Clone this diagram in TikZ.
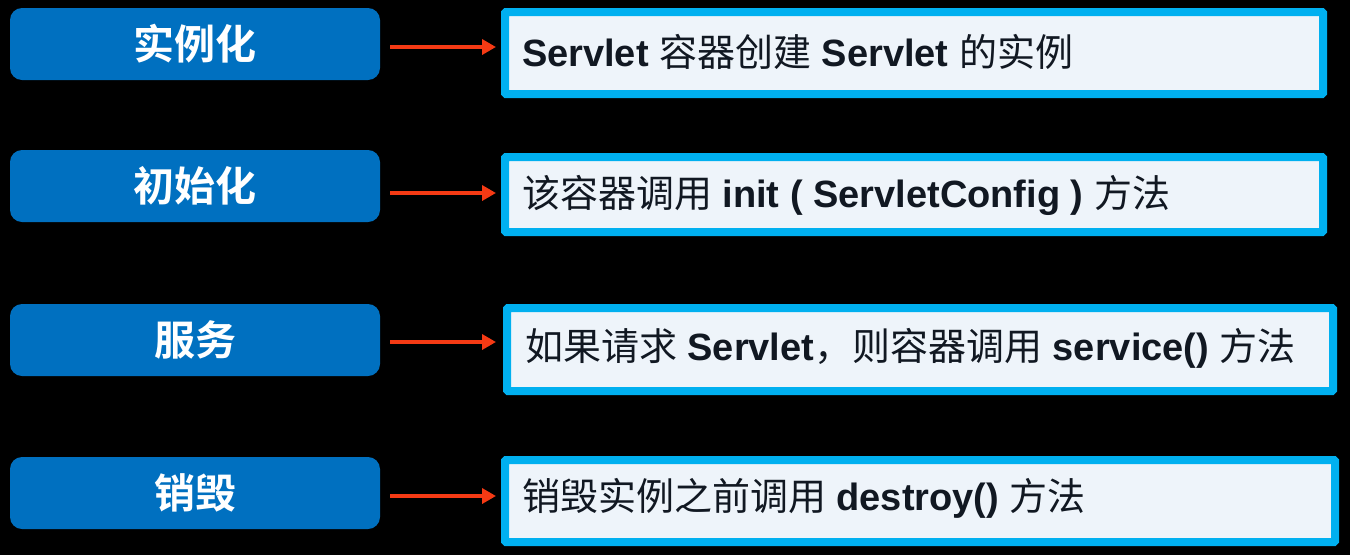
\documentclass[tikz,border=0pt]{standalone}
\usepackage{fontspec}
\setmainfont{Liberation Sans}
\newfontfamily\cjk{Noto Sans CJK SC}
\newfontfamily\cjkb{Noto Sans CJK SC Bold}
\usetikzlibrary{arrows.meta}
\definecolor{stagefill}{HTML}{0070C0}
\definecolor{descborder}{HTML}{00B0F0}
\definecolor{descfill}{HTML}{EEF4FA}
\definecolor{arrowred}{HTML}{F53A14}
\definecolor{desctext}{HTML}{111822}
\tikzset{
  stagebox/.style={fill=stagefill, rounded corners=12, minimum width=370, minimum height=72,
    inner sep=0, outer sep=0, text=white, font=\cjkb\fontsize{41}{44}\selectfont},
  descbox/.style={draw=descborder, line width=8, fill=descfill, rounded corners=1,
    inner sep=0, outer sep=0},
  desctxt/.style={anchor=west, inner sep=0, outer sep=0, text=desctext,
    font=\fontsize{38}{41}\selectfont},
  flowarrow/.style={draw=arrowred, line width=4, -{Triangle[length=14,width=15]}},
}
\newcommand{\zh}[1]{{\cjk #1}}
\begin{document}
\begin{tikzpicture}[x=1pt,y=-1pt]
\fill[black] (0,0) rectangle (1350,555);
\useasboundingbox (0,0) rectangle (1350,555);

% stage boxes
\node[stagebox] (l1) at (195,44) {实例化};
\node[stagebox] (l2) at (195,186) {初始化};
\node[stagebox] (l3) at (195,340) {服务};
\node[stagebox] (l4) at (195,493) {销毁};

% description boxes
\node[descbox, minimum width=818, minimum height=82] (r1) at (914,53) {};
\node[descbox, minimum width=818, minimum height=75] (r2) at (914,194.5) {};
\node[descbox, minimum width=826, minimum height=83] (r3) at (920,349.5) {};
\node[descbox, minimum width=830, minimum height=82] (r4) at (920,501) {};

% texts
\node[desctxt] (t1) at (522,52) {\textbf{Servlet} \zh{容器创建} \textbf{Servlet} \zh{的实例}};
\node[desctxt] (t2) at (522,195) {\zh{该容器调用} \textbf{init ( ServletConfig )} \zh{方法}};
\node[desctxt] (t3) at (525,348) {\zh{如果请求} \textbf{Servlet}\zh{，则容器调用} \textbf{service()} \zh{方法}};
\node[desctxt] (t4) at (522,498) {\zh{销毁实例之前调用} \textbf{destroy()} \zh{方法}};

% arrows
\coordinate (s1) at ([shift={(10,3)}]l1.east);
\coordinate (s2) at ([shift={(10,7)}]l2.east);
\coordinate (s3) at ([shift={(10,2)}]l3.east);
\coordinate (s4) at ([shift={(10,3)}]l4.east);
\draw[flowarrow] (s1) -- ([xshift=-9]s1 -| r1.west);
\draw[flowarrow] (s2) -- ([xshift=-9]s2 -| r2.west);
\draw[flowarrow] (s3) -- ([xshift=-11]s3 -| r3.west);
\draw[flowarrow] (s4) -- ([xshift=-9]s4 -| r4.west);
\end{tikzpicture}
\end{document}
